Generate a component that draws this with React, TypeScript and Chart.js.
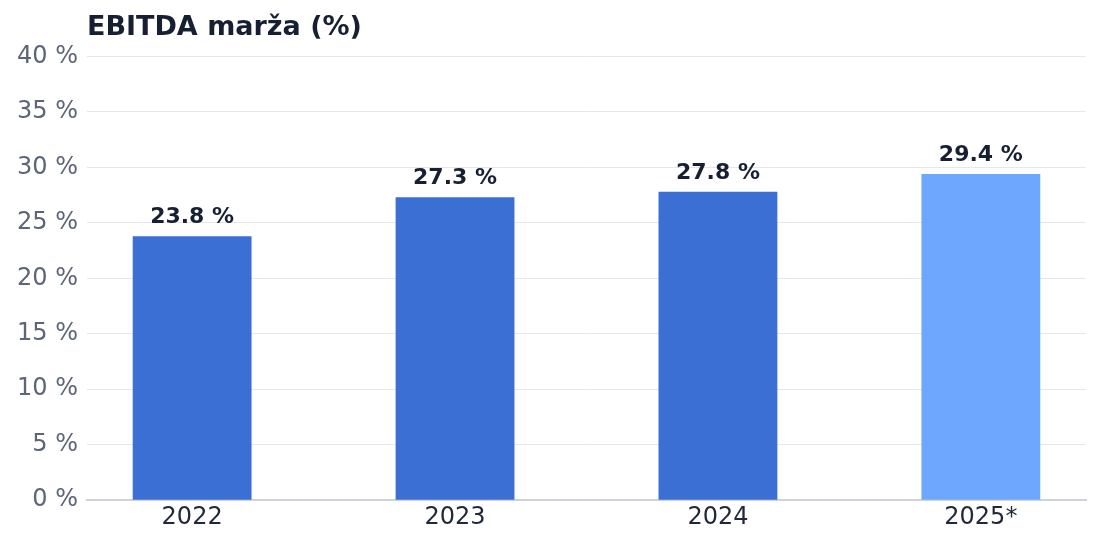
import React, { useEffect, useRef } from "react";
import { Chart, registerables } from "chart.js";

Chart.register(...registerables);

const categories = ["2022", "2023", "2024", "2025*"];
const marginValues = [23.8, 27.3, 27.8, 29.4];
const barColors = ["#3b6fd4", "#3b6fd4", "#3b6fd4", "#6ea7fe"];
const yTicks = [0, 5, 10, 15, 20, 25, 30, 35, 40];
const titleText = "EBITDA marža (%)";

const FONT = "'DejaVu Sans', sans-serif";

const valueLabels = {
  id: "valueLabels",
  afterDatasetsDraw(chart: any) {
    const ctx = chart.ctx;
    const meta = chart.getDatasetMeta(0);
    ctx.save();
    ctx.font = `bold 22px ${FONT}`;
    ctx.fillStyle = "#172033";
    ctx.textAlign = "center";
    ctx.textBaseline = "alphabetic";
    meta.data.forEach((bar: any, i: number) => {
      ctx.fillText(`${marginValues[i].toFixed(1)} %`, bar.x, bar.y - 13);
    });
    ctx.restore();
  },
};

export default function App() {
  const ref = useRef<HTMLCanvasElement>(null);
  useEffect(() => {
    if (!ref.current) return;
    const chart = new Chart(ref.current, {
      type: "bar",
      data: {
        datasets: [
          {
            data: marginValues.map((v, i) => ({ x: i, y: v })),
            backgroundColor: barColors,
            barPercentage: 0.452,
            categoryPercentage: 1,
          },
        ],
      },
      options: {
        animation: false,
        responsive: true,
        maintainAspectRatio: false,
        layout: { padding: { left: 0, right: 7, bottom: 3 } },
        plugins: {
          legend: { display: false },
          tooltip: { enabled: false },
          title: {
            display: true,
            text: titleText,
            align: "start",
            fullSize: false,
            color: "#172033",
            font: { family: FONT, size: 27, weight: "bold" },
            padding: { top: 4, bottom: 12 },
          },
        },
        scales: {
          x: {
            type: "linear",
            min: -0.4,
            max: 3.4,
            bounds: "data",
            offset: false,
            grid: { display: false, drawTicks: false, offset: false },
            border: { display: true, color: "#cdd2db", width: 2 },
            afterBuildTicks: (scale: any) => {
              scale.ticks = categories.map((_, i) => ({ value: i }));
            },
            ticks: {
              autoSkip: false,
              maxRotation: 0,
              padding: 3,
              color: "#1f2937",
              font: { family: FONT, size: 24 },
              callback: (v: any) => categories[v] ?? "",
            },
          },
          y: {
            min: yTicks[0],
            max: yTicks[yTicks.length - 1],
            grid: { color: "#e5e7eb", lineWidth: 1, drawTicks: false },
            border: { display: false },
            afterBuildTicks: (scale: any) => {
              scale.ticks = yTicks.map((v) => ({ value: v }));
            },
            ticks: {
              padding: 9,
              color: "#5c6677",
              font: { family: FONT, size: 24 },
              callback: (v: any) => `${v} %`,
            },
          },
        },
      },
      plugins: [valueLabels],
    });
    return () => chart.destroy();
  }, []);
  return (
    <div style={{ width: 1085, height: 530, position: "relative" }}>
      <canvas ref={ref} />
    </div>
  );
}
